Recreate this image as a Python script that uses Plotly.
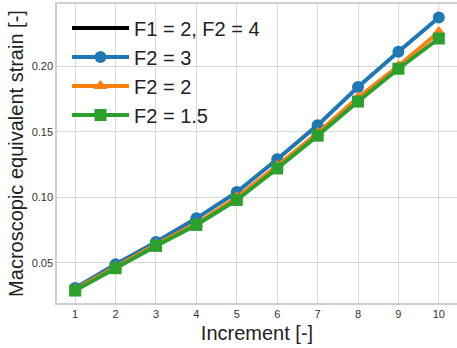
import plotly.graph_objects as go

increments = [1, 2, 3, 4, 5, 6, 7, 8, 9, 10]
f2_3 = [0.031, 0.049, 0.066, 0.084, 0.104, 0.129, 0.155, 0.184, 0.211, 0.237]
f2_2 = [0.030, 0.047, 0.064, 0.080, 0.100, 0.124, 0.149, 0.176, 0.200, 0.226]
f2_15 = [0.029, 0.046, 0.063, 0.079, 0.098, 0.122, 0.147, 0.173, 0.198, 0.221]

font_family = "Liberation Sans, Arial, sans-serif"

fig = go.Figure()
fig.add_trace(go.Scatter(x=[None], y=[None], mode="lines", name="F1 = 2, F2 = 4",
                         line=dict(color="black", width=4)))
fig.add_trace(go.Scatter(x=increments, y=f2_3, mode="lines+markers", name="F2 = 3",
                         line=dict(color="#1f77b4", width=4),
                         marker=dict(symbol="circle", size=12, color="#1f77b4")))
fig.add_trace(go.Scatter(x=increments, y=f2_2, mode="lines+markers", name="F2 = 2",
                         line=dict(color="#ff7f0e", width=4),
                         marker=dict(symbol="triangle-up", size=12, color="#ff7f0e")))
fig.add_trace(go.Scatter(x=increments, y=f2_15, mode="lines+markers", name="F2 = 1.5",
                         line=dict(color="#2ca02c", width=4),
                         marker=dict(symbol="square", size=12, color="#2ca02c")))

axis_common = dict(showgrid=True, gridcolor="#d9d9d9", gridwidth=1,
                   showline=True, linecolor="#cfcfcf", linewidth=1.5, mirror=True,
                   zeroline=False, ticks="", automargin=False,
                   tickfont=dict(size=11, color="#333333", family=font_family),
                   title_font=dict(size=20, color="#222222", family=font_family))

fig.update_layout(
    width=457, height=348,
    margin=dict(l=57, r=0, t=4, b=45),
    paper_bgcolor="white", plot_bgcolor="white",
    font=dict(family=font_family),
    showlegend=True,
    legend=dict(x=0.025, y=0.985, xanchor="left", yanchor="top",
                bgcolor="rgba(255,255,255,0)", borderwidth=0,
                font=dict(size=20, color="#222222", family=font_family),
                tracegroupgap=0, itemwidth=57),
    xaxis=dict(range=[0.55, 10.45], tickvals=increments,
               title=dict(text="Increment [-]", standoff=7), **axis_common),
    yaxis=dict(range=[0.0195, 0.2473], tickvals=[0.05, 0.10, 0.15, 0.20],
               ticktext=["0.05", "0.10", "0.15", "0.20"],
               title=dict(text="Macroscopic equivalent strain [-]", standoff=3), **axis_common),
)

fig.write_html("out.html", config={"displayModeBar": False},
               post_script="document.body.style.margin='0';document.body.style.overflow='hidden';")
